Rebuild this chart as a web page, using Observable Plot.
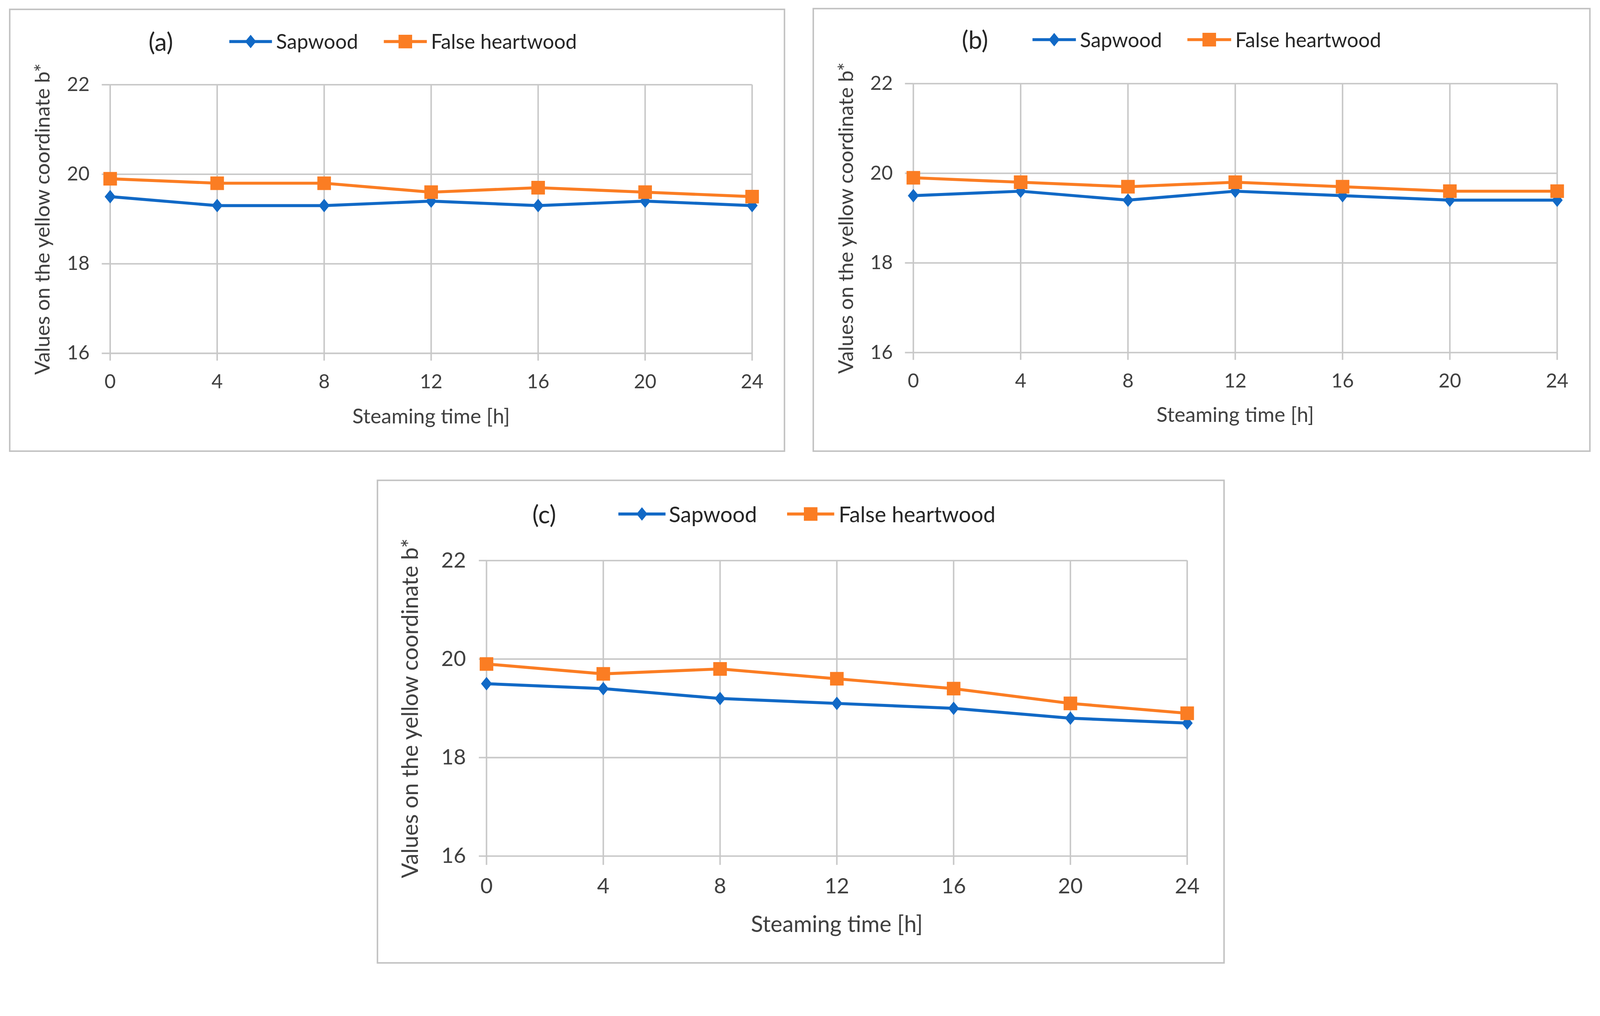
<!DOCTYPE html>
<html>
<head>
<meta charset="utf-8">
<script src="https://cdn.jsdelivr.net/npm/d3@7"></script>
<script src="https://cdn.jsdelivr.net/npm/@observablehq/plot@0.6"></script>
<style>
  html, body { margin: 0; padding: 0; background: #ffffff; overflow: hidden; }
  #root { position: absolute; left: 0; top: 0; width: 4277px; height: 2601px; overflow: hidden; transform-origin: 0 0; font-family: Lato, "Open Sans", sans-serif; background: #fff; }
  .panel { position: absolute; }
  .border { position: absolute; box-sizing: border-box; border: 4px solid #c2c2c2; pointer-events: none; }
  .leg { position: absolute; white-space: nowrap; color: #262626; line-height: 1; transform: translateY(-50%); }
  .sw { position: absolute; transform: translateY(-50%); overflow: visible; }
</style>
</head>
<body>
<div id="root"></div>
<script>
// ---------- data ----------
const hours = [0, 4, 8, 12, 16, 20, 24];
const yTicks = [16, 18, 20, 22];
const seriesNames = ["Sapwood", "False heartwood"];
const panelLabels = ["(a)", "(b)", "(c)"];
const xLabel = "Steaming time [h]";
const yLabel = "Values on the yellow coordinate b*";

const sapwoodA        = [19.5, 19.3, 19.3, 19.4, 19.3, 19.4, 19.3];
const falseHeartwoodA = [19.9, 19.8, 19.8, 19.6, 19.7, 19.6, 19.5];
const sapwoodB        = [19.5, 19.6, 19.4, 19.6, 19.5, 19.4, 19.4];
const falseHeartwoodB = [19.9, 19.8, 19.7, 19.8, 19.7, 19.6, 19.6];
const sapwoodC        = [19.5, 19.4, 19.2, 19.1, 19.0, 18.8, 18.7];
const falseHeartwoodC = [19.9, 19.7, 19.8, 19.6, 19.4, 19.1, 18.9];

// ---------- styles / layout ----------
const BLUE = "#1169c6";
const ORANGE = "#fb7d23";
const GRID = "#c8c8c8";
const TEXT = "#404040";
const LINE_W = 8;
const R_DIAMOND = 13;
const R_SQUARE = 20.5;

const root = document.getElementById("root");
const s = Math.min(window.innerWidth / 4277, window.innerHeight / 2601);
if (s > 0 && Math.abs(s - 1) > 0.002) root.style.transform = `scale(${s})`;

const diamondSym = {
  draw(ctx, size) {
    const h = Math.sqrt(size / 1.64), w = 0.82 * h;
    ctx.moveTo(0, -h); ctx.lineTo(w, 0); ctx.lineTo(0, h); ctx.lineTo(-w, 0); ctx.closePath();
  }
};

const layouts = [
  {left: 24, top: 23, width: 2075, height: 1185, mL: 270, mR: 89, mT: 203, mB: 264,
   tick: 52, title: 55, leg: 54, lab: 66, tickX: 20, tickY: 22, padX: 36, padY: 33, yDx: -179, xDy: 170,
   lg: {y: 111, label: 397, blue: [613, 727], sap: 738, orange: [1026, 1141], fh: 1152}},
  {left: 2172, top: 21, width: 2080, height: 1187, mL: 269, mR: 90, mT: 202, mB: 266,
   tick: 52, title: 55, leg: 54, lab: 66, tickX: 20, tickY: 22, padX: 36, padY: 33, yDx: -179, xDy: 168,
   lg: {y: 106, label: 2571, blue: [2760, 2876], sap: 2887, orange: [3174, 3291], fh: 3302}},
  {left: 1007, top: 1282, width: 2267, height: 1294, mL: 293, mR: 101, mT: 216, mB: 288,
   tick: 57, title: 60, leg: 58, lab: 66, tickX: 24, tickY: 20, padX: 35, padY: 35, yDx: -202, xDy: 184,
   lg: {y: 1374, label: 1423, blue: [1653, 1779], sap: 1788, orange: [2104, 2230], fh: 2242}}
];

const seriesData = [[sapwoodA, falseHeartwoodA], [sapwoodB, falseHeartwoodB], [sapwoodC, falseHeartwoodC]];

function swatch(x0, x1, y, color, kind, r) {
  const w = x1 - x0, hgt = 60;
  const ns = "http://www.w3.org/2000/svg";
  const svg = document.createElementNS(ns, "svg");
  svg.setAttribute("width", w); svg.setAttribute("height", hgt);
  svg.setAttribute("class", "sw");
  svg.style.left = x0 + "px"; svg.style.top = y + "px";
  const line = document.createElementNS(ns, "line");
  line.setAttribute("x1", 0); line.setAttribute("x2", w);
  line.setAttribute("y1", hgt / 2); line.setAttribute("y2", hgt / 2);
  line.setAttribute("stroke", color); line.setAttribute("stroke-width", LINE_W);
  svg.appendChild(line);
  const p = document.createElementNS(ns, "path");
  const size = Math.PI * r * r;
  const path = d3.path();
  if (kind === "diamond") diamondSym.draw(path, size);
  else d3.symbolSquare.draw(path, size);
  p.setAttribute("d", path.toString());
  p.setAttribute("fill", color);
  p.setAttribute("transform", `translate(${w / 2},${hgt / 2})`);
  svg.appendChild(p);
  root.appendChild(svg);
}

function text(x, y, str, size) {
  const d = document.createElement("div");
  d.className = "leg";
  d.style.left = x + "px"; d.style.top = y + "px"; d.style.fontSize = size + "px";
  d.textContent = str;
  root.appendChild(d);
}

layouts.forEach((L, k) => {
  const [sap, fh] = seriesData[k];
  const sapRows = hours.map((h, i) => ({h, v: sap[i]}));
  const fhRows = hours.map((h, i) => ({h, v: fh[i]}));

  const chart = Plot.plot({
    width: L.width,
    height: L.height,
    marginLeft: L.mL, marginRight: L.mR, marginTop: L.mT, marginBottom: L.mB,
    style: {fontFamily: "Lato, 'Open Sans', sans-serif", fontSize: L.tick + "px", background: "transparent", overflow: "visible"},
    x: {domain: [0, 24]},
    y: {domain: [16, 22]},
    marks: [
      Plot.gridY(yTicks, {stroke: GRID, strokeOpacity: 1, strokeWidth: 4}),
      Plot.gridX(hours, {stroke: GRID, strokeOpacity: 1, strokeWidth: 4}),
      Plot.axisY(yTicks, {tickSize: L.tickY, tickPadding: L.padY, stroke: GRID, strokeWidth: 4, fill: TEXT, fontSize: L.tick, tickFormat: d => String(d), label: null}),
      Plot.axisX(hours, {tickSize: L.tickX, tickPadding: L.padX, stroke: GRID, strokeWidth: 4, fill: TEXT, fontSize: L.tick, tickFormat: d => String(d), label: null}),
      Plot.text([xLabel], {text: d => d, frameAnchor: "bottom", textAnchor: "middle", lineAnchor: "middle", dy: L.xDy, fontSize: L.title, fill: TEXT}),
      Plot.text([yLabel], {text: d => d, frameAnchor: "left", textAnchor: "middle", lineAnchor: "middle", rotate: -90, dx: L.yDx, fontSize: L.title, fill: TEXT}),
      Plot.line(sapRows, {x: "h", y: "v", stroke: BLUE, strokeWidth: LINE_W, strokeLinejoin: "round"}),
      Plot.dot(sapRows, {x: "h", y: "v", symbol: diamondSym, r: R_DIAMOND, fill: BLUE, stroke: "none"}),
      Plot.line(fhRows, {x: "h", y: "v", stroke: ORANGE, strokeWidth: LINE_W, strokeLinejoin: "round"}),
      Plot.dot(fhRows, {x: "h", y: "v", symbol: "square", r: R_SQUARE, fill: ORANGE, stroke: "none"})
    ]
  });

  const wrap = document.createElement("div");
  wrap.className = "panel";
  wrap.style.left = L.left + "px"; wrap.style.top = L.top + "px";
  wrap.style.width = L.width + "px"; wrap.style.height = L.height + "px";
  wrap.appendChild(chart);
  root.appendChild(wrap);

  const b = document.createElement("div");
  b.className = "border";
  b.style.left = L.left + "px"; b.style.top = L.top + "px";
  b.style.width = L.width + "px"; b.style.height = L.height + "px";
  root.appendChild(b);

  // legend
  text(L.lg.label, L.lg.y, panelLabels[k], L.lab);
  swatch(L.lg.blue[0], L.lg.blue[1], L.lg.y, BLUE, "diamond", R_DIAMOND);
  text(L.lg.sap, L.lg.y, seriesNames[0], L.leg);
  swatch(L.lg.orange[0], L.lg.orange[1], L.lg.y, ORANGE, "square", R_SQUARE);
  text(L.lg.fh, L.lg.y, seriesNames[1], L.leg);
});
</script>
</body>
</html>
